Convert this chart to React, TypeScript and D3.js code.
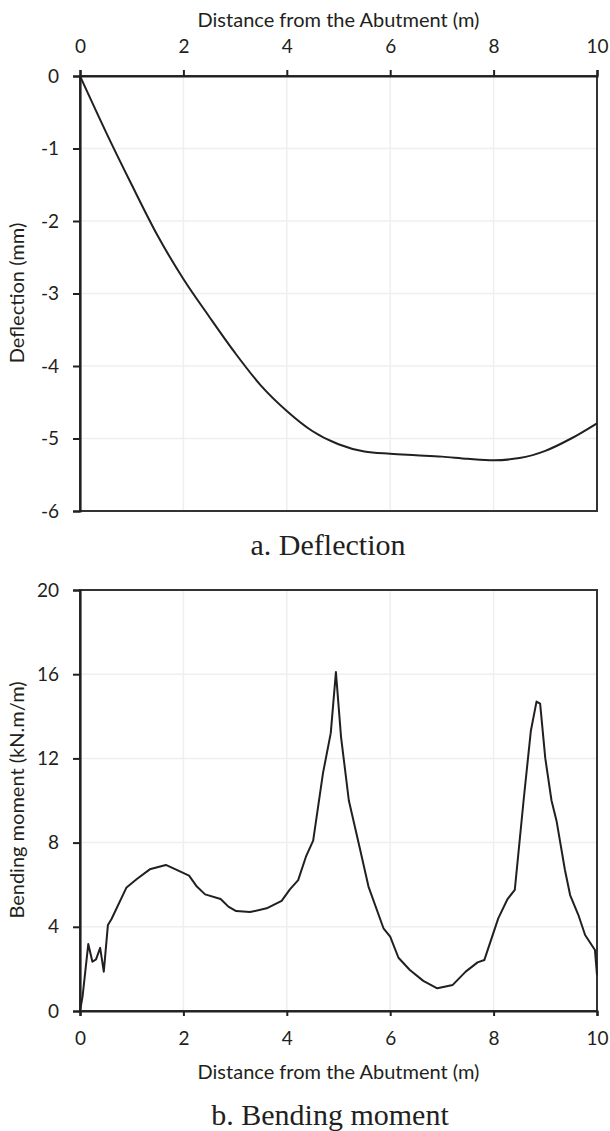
import React, { useRef, useEffect } from "react"
import * as d3 from "d3"

// distance along the slab (m), shared by both panels
const xTicks = [0, 2, 4, 6, 8, 10]

// a. deflection
const deflX = [0, 0.5, 1, 1.5, 2, 2.5, 3, 3.5, 4, 4.5, 5, 5.5, 6, 6.5, 7, 7.5, 8, 8.5, 9, 9.5, 10]
const deflY = [0, -0.77, -1.5, -2.2, -2.8, -3.32, -3.82, -4.27, -4.62, -4.9, -5.08, -5.18, -5.21, -5.23, -5.25, -5.28, -5.3, -5.27, -5.17, -5.0, -4.79]
const deflTicks = [0, -1, -2, -3, -4, -5, -6]

// b. bending moment
const momX = [0, 0.05, 0.16, 0.24, 0.31, 0.39, 0.46, 0.54, 0.61, 0.9, 1.1, 1.35, 1.66, 1.87, 2.11, 2.26, 2.42, 2.72, 2.87, 3.02, 3.29, 3.61, 3.9, 4.06, 4.22, 4.37, 4.51, 4.7, 4.85, 4.95, 5.05, 5.2, 5.42, 5.58, 5.87, 6.0, 6.16, 6.38, 6.64, 6.91, 7.21, 7.46, 7.69, 7.82, 8.09, 8.27, 8.41, 8.58, 8.72, 8.83, 8.9, 9.0, 9.12, 9.22, 9.38, 9.48, 9.64, 9.77, 9.96, 10.0]
const momY = [0, 0.7, 3.18, 2.34, 2.45, 3.0, 1.87, 4.09, 4.37, 5.87, 6.27, 6.73, 6.94, 6.7, 6.43, 5.91, 5.54, 5.32, 4.96, 4.75, 4.7, 4.88, 5.23, 5.78, 6.22, 7.33, 8.09, 11.3, 13.2, 16.1, 13.0, 10.0, 7.65, 5.91, 3.93, 3.53, 2.53, 1.95, 1.43, 1.08, 1.24, 1.87, 2.31, 2.42, 4.4, 5.32, 5.75, 10.0, 13.3, 14.7, 14.6, 12.0, 10.0, 9.0, 6.7, 5.51, 4.56, 3.61, 2.9, 1.7]
const momTicks = [0, 4, 8, 12, 16, 20]

const W = 610
const H = 1131
const left = 80
const right = 597
const sans = "Lato, 'Open Sans', sans-serif"
const serif = "'Liberation Serif', 'Times New Roman', serif"
const ink = "#231f20"
const grid = "#efefef"

export default function App() {
  const ref = useRef(null)

  useEffect(() => {
    const svg = d3.select(ref.current)
    svg.selectAll("*").remove()

    const x = d3.scaleLinear().domain([0, 10]).range([left, right])

    function panel(top, bottom, yDomain, yTicks, xs, ys, curve, xOnTop) {
      const y = d3.scaleLinear().domain(yDomain).range([bottom, top])
      const g = svg.append("g")

      // grid
      g.selectAll(".gx")
        .data(xTicks.slice(1, -1))
        .join("line")
        .attr("x1", d => x(d))
        .attr("x2", d => x(d))
        .attr("y1", top)
        .attr("y2", bottom)
        .attr("stroke", grid)
        .attr("stroke-width", 1.5)
      g.selectAll(".gy")
        .data(yTicks.filter(t => t !== yDomain[0] && t !== yDomain[1]))
        .join("line")
        .attr("x1", left)
        .attr("x2", right)
        .attr("y1", d => y(d))
        .attr("y2", d => y(d))
        .attr("stroke", grid)
        .attr("stroke-width", 1.5)

      // frame
      g.append("rect")
        .attr("x", left)
        .attr("y", top)
        .attr("width", right - left)
        .attr("height", bottom - top)
        .attr("fill", "none")
        .attr("stroke", "#333")
        .attr("stroke-width", 2)

      const line = d3
        .line()
        .x(d => x(d[0]))
        .y(d => y(d[1]))
        .curve(curve)
      g.append("path")
        .datum(xs.map((v, i) => [v, ys[i]]))
        .attr("d", line)
        .attr("fill", "none")
        .attr("stroke", ink)
        .attr("stroke-width", 2)
        .attr("stroke-linejoin", "round")

      const fmt = d => `${d}`
      const yAxis = g
        .append("g")
        .attr("transform", `translate(${left},0)`)
        .call(d3.axisLeft(y).tickValues(yTicks).tickSize(7).tickPadding(14).tickFormat(fmt))
      const xAxis = xOnTop
        ? g
            .append("g")
            .attr("transform", `translate(0,${top})`)
            .call(d3.axisTop(x).tickValues(xTicks).tickSize(6).tickPadding(17).tickFormat(fmt))
        : g
            .append("g")
            .attr("transform", `translate(0,${bottom})`)
            .call(d3.axisBottom(x).tickValues(xTicks).tickSize(5).tickPadding(16).tickFormat(fmt))

      ;[xAxis, yAxis].forEach(a => {
        a.select(".domain").attr("stroke", ink).attr("stroke-width", 2.2)
        a.selectAll(".tick line").attr("stroke", ink).attr("stroke-width", 2)
        a.selectAll("text")
          .attr("fill", "#231f20")
          .style("font-family", sans)
          .style("font-size", "19px")
      })
      return y
    }

    panel(76, 511, [-6, 0], deflTicks, deflX, deflY, d3.curveMonotoneX, true)
    panel(590, 1011, [0, 20], momTicks, momX, momY, d3.curveLinear, false)

    const label = (txt, tx, ty, font, size, rot) => {
      svg
        .append("text")
        .attr("transform", `translate(${tx},${ty})${rot ? " rotate(-90)" : ""}`)
        .attr("text-anchor", "middle")
        .attr("fill", "#231f20")
        .style("font-family", font)
        .style("font-size", size)
        .text(txt)
    }
    const mid = (left + right) / 2
    label("Distance from the Abutment (m)", mid, 27, sans, "20px", false)
    label("Deflection (mm)", 24, 293, sans, "20px", true)
    label("a. Deflection", 328, 555, serif, "30px", false)
    label("Bending moment (kN.m/m)", 24, 800, sans, "20px", true)
    label("Distance from the Abutment (m)", mid, 1079, sans, "20px", false)
    label("b. Bending moment", 330, 1125, serif, "30px", false)
  }, [])

  return (
    <svg
      ref={ref}
      width={W}
      height={H}
      style={{ position: "absolute", left: 0, top: 0, background: "#fff" }}
    ></svg>
  )
}
